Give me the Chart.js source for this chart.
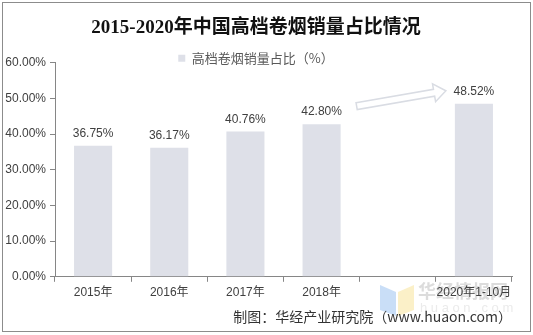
<!DOCTYPE html>
<html>
<head>
<meta charset="utf-8">
<script src="https://cdn.jsdelivr.net/npm/chart.js@4.4.0/dist/chart.umd.min.js"></script>
<style>
  html, body { margin: 0; padding: 0; background: #fff; }
  #wrap { width: 533px; height: 335px; }
</style>
</head>
<body>
<div id="wrap"><canvas id="grafico"></canvas></div>
<script>
// dados do gráfico
const categorias = ['2015年', '2016年', '2017年', '2018年', '', '2020年1-10月'];
const valores = [36.75, 36.17, 40.76, 42.80, null, 48.52];
const rotulosY = [0, 10, 20, 30, 40, 50, 60];

const fonteLatina = '"Liberation Sans", Arial, "Noto Sans CJK SC", sans-serif';

// moldura, marca d'água, seta e rótulos das barras
const extras = {
    id: 'extras',
    afterLayout(chart) {
        // a legenda fica mais perto do topo do gráfico
        chart.legend.top += 12;
        chart.legend.bottom += 12;
    },
    beforeDraw(chart) {
        const c = chart.ctx;
        c.save();
        // marca d'água
        c.globalAlpha = 0.55;
        c.fillStyle = '#9cc3f0';
        c.beginPath();
        c.moveTo(380, 285); c.lineTo(396, 292); c.lineTo(396, 316); c.lineTo(380, 310);
        c.closePath(); c.fill();
        c.fillStyle = '#f7e39a';
        c.beginPath();
        c.moveTo(398, 292); c.lineTo(414, 285); c.lineTo(414, 310); c.lineTo(398, 316);
        c.closePath(); c.fill();
        c.globalAlpha = 1;
        c.fillStyle = '#dcdcdc';
        c.font = 'bold 18px "Noto Sans CJK SC", sans-serif';
        c.textAlign = 'left';
        c.textBaseline = 'middle';
        c.fillText('华经情报网', 418, 291);
        c.fillStyle = '#ebebeb';
        c.font = '13px ' + fonteLatina;
        c.fillText('h u a o n . c o m', 420, 308);
        c.restore();
    },
    afterDatasetsDraw(chart) {
        const c = chart.ctx;
        const meta = chart.getDatasetMeta(0);
        c.save();
        c.fillStyle = '#404040';
        c.font = '12px ' + fonteLatina;
        c.textAlign = 'center';
        c.textBaseline = 'bottom';
        meta.data.forEach((bar, i) => {
            if (valores[i] == null) return;
            c.fillText(valores[i].toFixed(2) + '%', bar.x, bar.y - 6);
        });

        // seta vazada entre 2018 e 2020
        const b1 = meta.data[3], b2 = meta.data[5];
        const x0 = b1.x + b1.width / 2 + 16, y0 = b1.y - 18;
        const x1 = b2.x - b2.width / 2 - 9, y1 = b2.y - 13;
        const ang = Math.atan2(y1 - y0, x1 - x0);
        const len = Math.hypot(x1 - x0, y1 - y0);
        c.translate(x0, y0);
        c.rotate(ang);
        c.strokeStyle = '#d9dce3';
        c.lineWidth = 1.5;
        c.beginPath();
        c.moveTo(0, -3.5);
        c.lineTo(len - 12, -3.5);
        c.lineTo(len - 12, -9);
        c.lineTo(len, 0);
        c.lineTo(len - 12, 9);
        c.lineTo(len - 12, 3.5);
        c.lineTo(0, 3.5);
        c.closePath();
        c.stroke();
        c.restore();
    },
    afterDraw(chart) {
        const c = chart.ctx;
        c.save();
        c.strokeStyle = '#8c8c8c';
        c.lineWidth = 1;
        c.strokeRect(2.5, 2.5, chart.width - 5, chart.height - 6);
        c.restore();
    }
};

const ctx = document.getElementById('grafico').getContext('2d');
new Chart(ctx, {
    type: 'bar',
    data: {
        labels: categorias,
        datasets: [{
            label: '高档卷烟销量占比（%）',
            data: valores,
            backgroundColor: '#dee0e8',
            borderWidth: 0,
            categoryPercentage: 1,
            barPercentage: 0.5
        }]
    },
    options: {
        responsive: true,
        maintainAspectRatio: false,
        animation: false,
        layout: { padding: { left: 0, right: 21, top: 0, bottom: 4 } },
        plugins: {
            title: {
                display: true,
                text: '2015-2020年中国高档卷烟销量占比情况',
                color: '#111',
                font: { family: '"Liberation Serif", "Noto Sans CJK SC", serif', size: 19, weight: 'bold' },
                padding: { top: 17, bottom: 0 }
            },
            legend: {
                display: true,
                labels: {
                    color: '#595959',
                    font: { family: '"Noto Sans CJK SC", sans-serif', size: 13 },
                    boxWidth: 7,
                    boxHeight: 7,
                    padding: 0
                }
            },
            subtitle: {
                display: true,
                position: 'bottom',
                align: 'end',
                text: '制图：华经产业研究院（www.huaon.com）',
                color: '#333',
                font: { family: '"Noto Sans CJK SC", sans-serif', size: 14, weight: 'normal' },
                padding: { top: 4, bottom: 6 }
            },
            tooltip: { enabled: false }
        },
        scales: {
            x: {
                grid: { display: true, drawOnChartArea: false, drawTicks: true, tickLength: 5, color: '#868686', offset: true },
                border: { display: true, color: '#868686' },
                ticks: { color: '#404040', font: { family: fonteLatina, size: 12 }, maxRotation: 0, autoSkip: false, padding: 4 }
            },
            y: {
                min: 0,
                max: 60,
                afterBuildTicks(scale) {
                    scale.ticks = rotulosY.map(v => ({ value: v }));
                },
                afterFit(scale) { scale.width = 55; },
                grid: { display: true, drawOnChartArea: false, drawTicks: true, tickLength: 5, color: '#868686' },
                border: { display: true, color: '#868686' },
                ticks: {
                    color: '#404040',
                    font: { family: fonteLatina, size: 12 },
                    padding: 4,
                    callback: v => v.toFixed(2) + '%'
                }
            }
        }
    },
    plugins: [extras]
});
</script>
</body>
</html>
